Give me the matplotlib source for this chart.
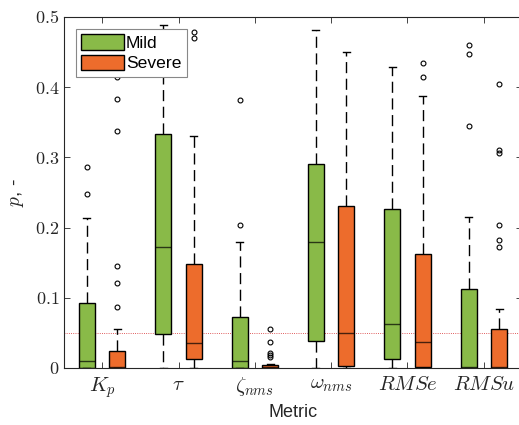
import numpy as np
import matplotlib
matplotlib.use('Agg')
import matplotlib.pyplot as plt
from matplotlib.patches import Patch

plt.rcParams['mathtext.fontset'] = 'cm'
plt.rcParams['font.family'] = ['Liberation Sans', 'DejaVu Sans']

metrics = [r'$K_p$', r'$\tau$', r'$\zeta_{nms}$', r'$\omega_{nms}$', r'$RMSe$', r'$RMSu$']

# Mild group box statistics
mild_q1 = [0.0, 0.048, 0.0, 0.039, 0.013, 0.0]
mild_med = [0.010, 0.173, 0.0095, 0.180, 0.062, 0.001]
mild_q3 = [0.092, 0.334, 0.073, 0.291, 0.227, 0.113]
mild_lo = [0.0, 0.0, 0.0, 0.0, 0.0, 0.0]
mild_hi = [0.214, 0.489, 0.179, 0.482, 0.429, 0.215]
mild_out = [[0.287, 0.248], [], [0.204, 0.382], [], [], [0.345, 0.447, 0.460]]

# Severe group box statistics
sev_q1 = [0.0, 0.013, 0.0, 0.003, 0.002, 0.0]
sev_med = [0.001, 0.036, 0.002, 0.050, 0.0365, 0.001]
sev_q3 = [0.024, 0.148, 0.004, 0.231, 0.162, 0.0555]
sev_lo = [0.0, 0.0, 0.0, 0.0, 0.0, 0.0]
sev_hi = [0.056, 0.330, 0.006, 0.450, 0.388, 0.0835]
sev_out = [[0.087, 0.121, 0.145, 0.338, 0.383, 0.415],
           [0.470, 0.479],
           [0.056, 0.037, 0.021, 0.018, 0.015],
           [],
           [0.414, 0.435],
           [0.173, 0.182, 0.203, 0.306, 0.310, 0.405]]

threshold = 0.05

green = '#89BA48'
orange = '#ED6C2C'


def make_stats(q1, med, q3, lo, hi, out):
    return [dict(q1=a, med=b, q3=c, whislo=d, whishi=e, fliers=f)
            for a, b, c, d, e, f in zip(q1, med, q3, lo, hi, out)]


fig = plt.figure(figsize=(5.19, 4.25), dpi=100)
ax = fig.add_axes([64 / 519, 57 / 425, 458 / 519, 351 / 425])

pos = np.arange(1, len(metrics) + 1)
for stats, offs, col in [(make_stats(mild_q1, mild_med, mild_q3, mild_lo, mild_hi, mild_out), -0.2, green),
                         (make_stats(sev_q1, sev_med, sev_q3, sev_lo, sev_hi, sev_out), 0.2, orange)]:
    ax.bxp(stats, positions=pos + offs, widths=0.21, patch_artist=True,
           capwidths=0.09, manage_ticks=False,
           boxprops=dict(facecolor=col, edgecolor='black', linewidth=1.0),
           medianprops=dict(color='black', alpha=0.7, linewidth=1.0),
           whiskerprops=dict(color='black', linestyle=(0, (8, 4)), linewidth=1.0),
           capprops=dict(color='black', linewidth=1.0),
           flierprops=dict(marker='o', markersize=3.5, markerfacecolor='none',
                           markeredgecolor='black', markeredgewidth=0.8))

ax.axhline(threshold, color='#d62728', linestyle=':', linewidth=0.6, zorder=0)

ax.set_xlim(0.5, 6.5)
ax.set_ylim(0, 0.5)
ax.set_xticks(pos)
ax.set_xticklabels(metrics, fontsize=15)
yt = [0, 0.1, 0.2, 0.3, 0.4, 0.5]
ax.set_yticks(yt)
ax.set_yticklabels(['$0$', '$0.1$', '$0.2$', '$0.3$', '$0.4$', '$0.5$'], fontsize=13)
ax.tick_params(direction='in', top=True, right=True, length=4, colors='#262626', width=0.6)
ax.tick_params(axis='x', pad=5)
for s in ax.spines.values():
    s.set_color('#262626')
    s.set_linewidth(0.8)

ax.set_xlabel('Metric', fontsize=13, color='#262626', labelpad=3)
ax.set_ylabel('$p$, -', fontsize=14, color='#262626', labelpad=6)

handles = [Patch(facecolor=green, edgecolor='black', label='Mild'),
           Patch(facecolor=orange, edgecolor='black', label='Severe')]
leg = ax.legend(handles=handles, loc='upper left', bbox_to_anchor=(0.026, 0.966),
                borderaxespad=0, fontsize=12.6, handlelength=2.45, handleheight=1.0,
                handletextpad=0.1, borderpad=0.3, labelspacing=0.2,
                fancybox=False, framealpha=1, edgecolor='#888888')
leg.get_frame().set_linewidth(0.8)

fig.savefig('out.png', dpi=100)
